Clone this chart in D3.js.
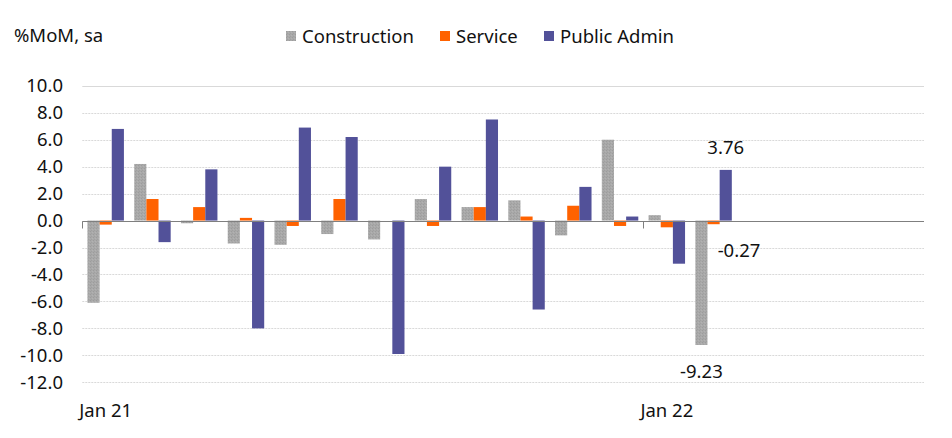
<!DOCTYPE html>
<html>
<head>
<meta charset="utf-8">
<script src="https://cdnjs.cloudflare.com/ajax/libs/d3/7.8.5/d3.min.js"></script>
<style>
  body { margin: 0; background: #fff; }
  text { font-family: "Noto Sans", "Liberation Sans", Arial, sans-serif; fill: #111; }
</style>
</head>
<body>
<div id="chart"></div>
<script>
// months on the category axis (Jan 21 .. Jun 22), only the first 14 have data
const months = ["Jan 21","Feb 21","Mar 21","Apr 21","May 21","Jun 21","Jul 21","Aug 21","Sep 21","Oct 21","Nov 21","Dec 21",
                "Jan 22","Feb 22","Mar 22","Apr 22","May 22","Jun 22"];
const seriesNames = ["Construction", "Service", "Public Admin"];
const construction = [-6.1, 4.2, -0.2, -1.7, -1.8, -1.0, -1.4, 1.6, 1.0, 1.5, -1.1, 6.0, 0.4, -9.23];
const service      = [-0.3, 1.6, 1.0, 0.2, -0.4, 1.6, 0.0, -0.4, 1.0, 0.3, 1.1, -0.4, -0.5, -0.27];
const publicAdmin  = [6.8, -1.6, 3.8, -8.0, 6.9, 6.2, -9.9, 4.0, 7.5, -6.6, 2.5, 0.3, -3.2, 3.76];
const yTicks = [10, 8, 6, 4, 2, 0, -2, -4, -6, -8, -10, -12];
const xLabels = ["Jan 21", "Jan 22"];

const width = 952, height = 438;
const fontSize = "18.5px";
const svg = d3.select("#chart").append("svg")
  .attr("width", width)
  .attr("height", height);

// stipple fill for construction bars
const defs = svg.append("defs");
const pat = defs.append("pattern")
  .attr("id", "stipple")
  .attr("width", 3).attr("height", 3)
  .attr("patternUnits", "userSpaceOnUse");
pat.append("rect").attr("width", 3).attr("height", 3).attr("fill", "#a9a9a9");
pat.append("rect").attr("x", 0).attr("y", 0).attr("width", 1).attr("height", 1).attr("fill", "#9c9c9c");
pat.append("rect").attr("x", 2).attr("y", 1).attr("width", 1).attr("height", 1).attr("fill", "#b2b2b2");
pat.append("rect").attr("x", 1).attr("y", 2).attr("width", 1).attr("height", 1).attr("fill", "#a0a0a0");

const colors = { "Construction": "url(#stipple)", "Service": "#ff6200", "Public Admin": "#525199" };

const left = 82.3, right = 924;
const x = d3.scaleBand()
  .domain(months)
  .range([left, right])
  .paddingInner(0.22)
  .paddingOuter(0.11);
const xs = d3.scaleBand()
  .domain(seriesNames)
  .range([0, x.bandwidth()]);
const y = d3.scaleLinear()
  .domain([-12, 10])
  .range([382.3, 85.8]);

// gridlines
svg.append("g").selectAll("line.grid")
  .data(yTicks.filter(d => d !== 0))
  .enter()
  .append("line")
  .classed("grid", true)
  .attr("x1", left).attr("x2", right)
  .attr("y1", d => Math.round(y(d)) + 0.5)
  .attr("y2", d => Math.round(y(d)) + 0.5)
  .style("stroke", "#d9d9d9")
  .style("stroke-width", "1px")
  .style("stroke-dasharray", d => d === 10 ? null : "2,1");

// y tick labels
svg.append("g").selectAll("text.ytick")
  .data(yTicks)
  .enter()
  .append("text")
  .classed("ytick", true)
  .attr("x", 63)
  .attr("y", d => y(d))
  .attr("dy", "0.35em")
  .attr("text-anchor", "end")
  .style("font-size", fontSize)
  .text(d => d3.format(".1f")(d).replace("−", "-"));

// bars
const rows = [];
construction.forEach((v, i) => {
  rows.push({ month: months[i], series: "Construction", value: v });
  rows.push({ month: months[i], series: "Service", value: service[i] });
  rows.push({ month: months[i], series: "Public Admin", value: publicAdmin[i] });
});

svg.append("g").selectAll("rect.bar")
  .data(rows)
  .enter()
  .append("rect")
  .classed("bar", true)
  .attr("x", d => x(d.month) + xs(d.series))
  .attr("width", xs.bandwidth())
  .attr("y", d => y(Math.max(0, d.value)))
  .attr("height", d => Math.abs(y(d.value) - y(0)))
  .attr("fill", d => colors[d.series]);

// zero axis line + ticks every 12 months
const zeroY = Math.round(y(0)) + 0.5;
svg.append("line")
  .attr("x1", left).attr("x2", right)
  .attr("y1", zeroY).attr("y2", zeroY)
  .style("stroke", "#7f7f7f")
  .style("stroke-width", "1px");
svg.append("g").selectAll("line.xtick")
  .data(xLabels)
  .enter()
  .append("line")
  .classed("xtick", true)
  .attr("x1", d => Math.round(x(d) - x.step() * x.paddingOuter()) + 0.5)
  .attr("x2", d => Math.round(x(d) - x.step() * x.paddingOuter()) + 0.5)
  .attr("y1", zeroY).attr("y2", zeroY + 7)
  .style("stroke", "#7f7f7f")
  .style("stroke-width", "1px");

// x labels
svg.append("g").selectAll("text.xlabel")
  .data(xLabels)
  .enter()
  .append("text")
  .classed("xlabel", true)
  .attr("x", d => x(d) + x.bandwidth() / 2)
  .attr("y", 417)
  .attr("text-anchor", "middle")
  .style("font-size", fontSize)
  .text(d => d);

// value annotations for the last month
const last = months[construction.length - 1];
const n = construction.length - 1;
svg.append("text")
  .attr("x", x(last) + xs("Public Admin") + xs.bandwidth() / 2)
  .attr("y", y(publicAdmin[n]) - 16)
  .attr("text-anchor", "middle")
  .style("font-size", fontSize)
  .text(publicAdmin[n].toFixed(2));
svg.append("text")
  .attr("x", x(last) + xs("Service") + xs.bandwidth() - 2)
  .attr("y", y(service[n]) + 33)
  .attr("text-anchor", "start")
  .style("font-size", fontSize)
  .text(service[n].toFixed(2));
svg.append("text")
  .attr("x", x(last) + xs("Construction") + xs.bandwidth() / 2)
  .attr("y", y(construction[n]) + 33)
  .attr("text-anchor", "middle")
  .style("font-size", fontSize)
  .text(construction[n].toFixed(2));

// unit label
svg.append("text")
  .attr("x", 14)
  .attr("y", 42)
  .style("font-size", fontSize)
  .text("%MoM, sa");

// legend
const legendX = [286, 440, 544];
const legend = svg.append("g").selectAll("g.legend")
  .data(seriesNames)
  .enter()
  .append("g")
  .classed("legend", true)
  .attr("transform", (d, i) => `translate(${legendX[i]}, 31)`);
legend.append("rect")
  .attr("width", 10).attr("height", 10)
  .attr("fill", d => colors[d]);
legend.append("text")
  .attr("x", 16)
  .attr("y", 11.5)
  .style("font-size", fontSize)
  .text(d => d);
</script>
</body>
</html>
